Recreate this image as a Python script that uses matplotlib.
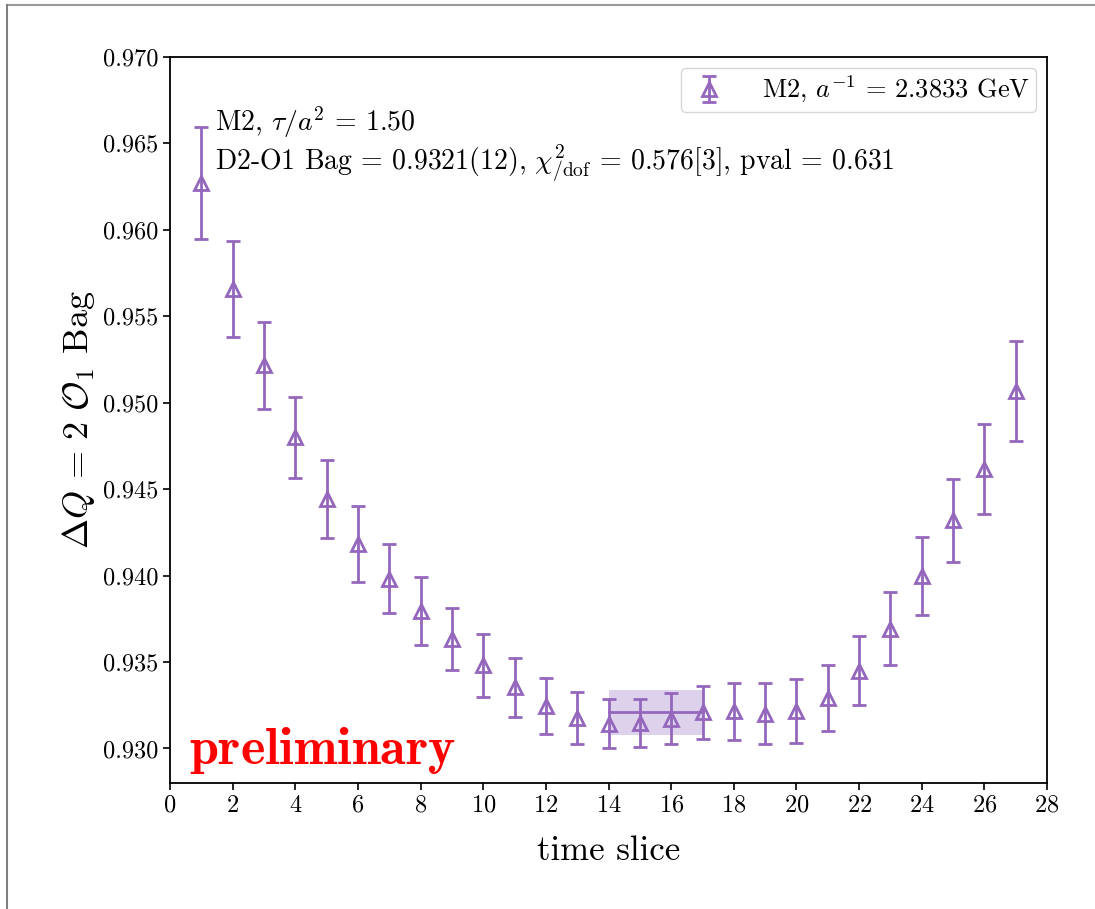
import numpy as np
import matplotlib
matplotlib.use("Agg")
import matplotlib.pyplot as plt
from matplotlib.lines import Line2D

plt.rcParams['font.family'] = 'serif'
plt.rcParams['font.serif'] = ['cmr10', 'DejaVu Serif']
plt.rcParams['mathtext.fontset'] = 'cm'
plt.rcParams['axes.formatter.use_mathtext'] = True
plt.rcParams['axes.unicode_minus'] = False

# Data
t = np.arange(1, 28)
bag = [0.96270, 0.95659, 0.95216, 0.94799, 0.94445, 0.94185, 0.93983, 0.93795,
       0.93633, 0.93480, 0.93353, 0.93247, 0.93176, 0.93144, 0.93145, 0.93173,
       0.93208, 0.93214, 0.93201, 0.93214, 0.93291, 0.93450, 0.93693, 0.93999,
       0.94319, 0.94618, 0.95069]
err = [0.00325, 0.00277, 0.00252, 0.00233, 0.00225, 0.00220, 0.00202, 0.00194,
       0.00182, 0.00180, 0.00170, 0.00162, 0.00152, 0.00144, 0.00139, 0.00145,
       0.00156, 0.00166, 0.00178, 0.00185, 0.00191, 0.00200, 0.00213, 0.00225,
       0.00242, 0.00259, 0.00289]
fit_range = [14, 17]
fit_val = 0.9321
fit_err = 0.0013

color = '#9467bd'

fig = plt.figure(figsize=(10.95, 9.09), dpi=100)
ax = fig.add_axes([0.1553, 0.1386, 0.8009, 0.7987])

ax.errorbar(t, bag, yerr=err, fmt='^', color=color, mfc='none', mec=color,
            mew=2, ms=10, elinewidth=2, capsize=5, capthick=2,
            label=r'M2, $a^{-1}$ = 2.3833 GeV')
ax.fill_between(fit_range, fit_val - fit_err, fit_val + fit_err, color=color,
                alpha=0.3, lw=0)
ax.plot(fit_range, [fit_val, fit_val], color=color, lw=2)

ax.set_xlim(0, 28)
ax.set_ylim(0.928, 0.970)
ax.set_xticks(np.arange(0, 29, 2))
ax.set_yticks(np.arange(0.930, 0.9701, 0.005))
ax.yaxis.set_major_formatter(matplotlib.ticker.FormatStrFormatter('%.3f'))
ax.tick_params(labelsize=17.5, width=1.2, length=5)
for s in ax.spines.values():
    s.set_linewidth(1.3)

ax.set_xlabel('time slice', fontsize=25, labelpad=13)
ax.set_ylabel(r'$\Delta Q\,=\,2\ \mathcal{O}_1$ Bag', fontsize=26)

ax.text(0.051, 0.935,
        r'M2, $\tau/a^2$ = 1.50' + '\n' +
        r'D2-O1 Bag = 0.9321(12), $\chi^2_{/\mathrm{dof}}$ = 0.576[3], pval = 0.631',
        transform=ax.transAxes, fontsize=20, va='top', ha='left',
        linespacing=1.1)

ax.text(0.022, 0.010, r'$\mathbf{preliminary}$', transform=ax.transAxes,
        fontsize=37.5, color='red', ha='left', va='bottom')

leg = ax.legend(loc='upper right', fontsize=19, handlelength=1.6,
                handletextpad=1.2, borderpad=0.25, framealpha=0.8,
                borderaxespad=0.4)

# screenshot frame lines
fig.add_artist(Line2D([7/1095, 1.0], [1 - 5/909, 1 - 5/909], color='#999999', lw=1.5))
fig.add_artist(Line2D([7/1095, 7/1095], [0, 1 - 5/909], color='#808080', lw=1.5))

fig.savefig('out.png', dpi=100)
